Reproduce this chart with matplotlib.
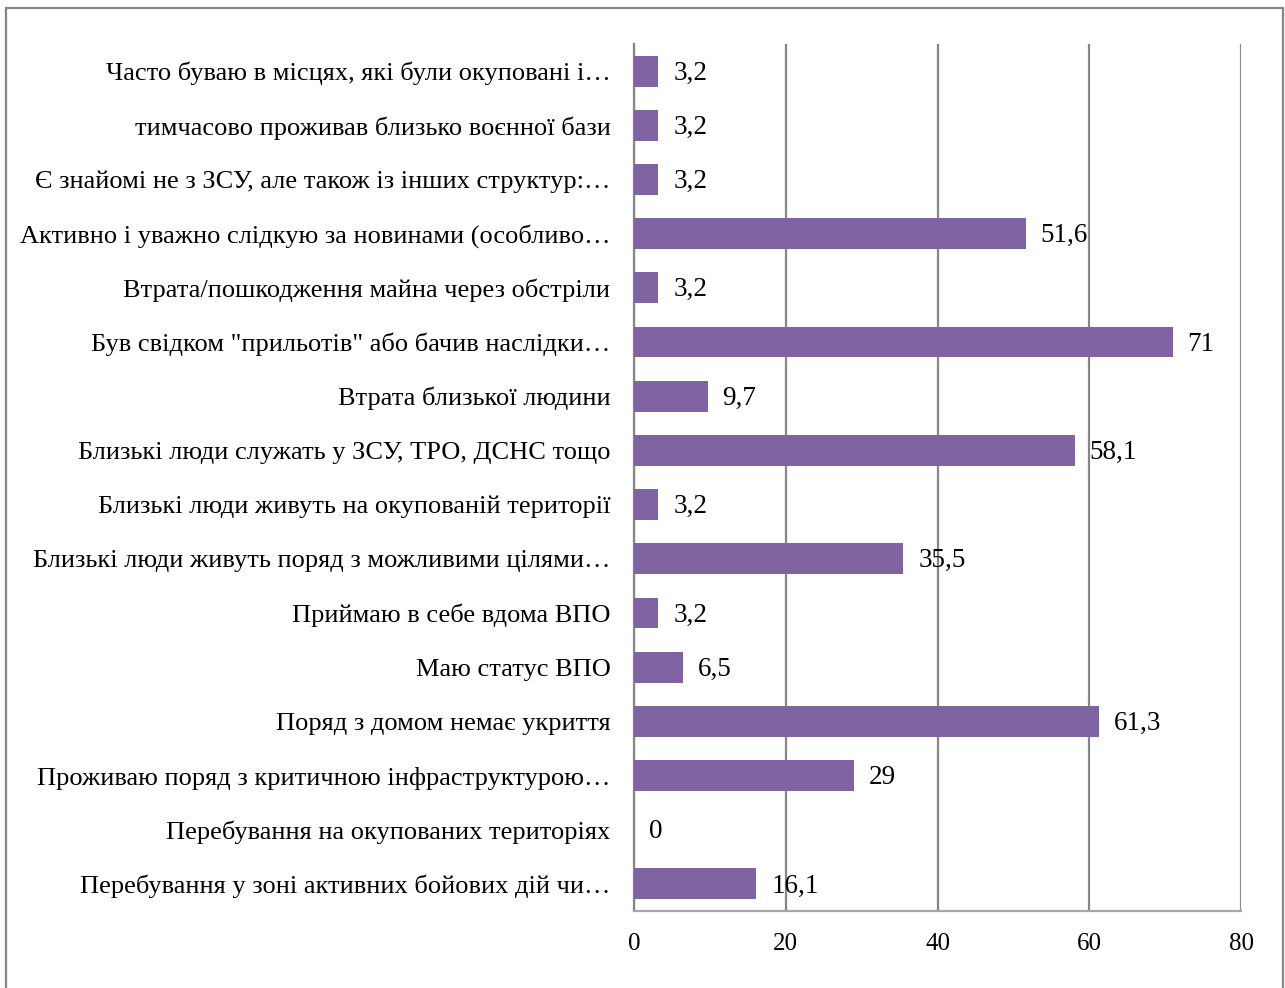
import matplotlib.pyplot as plt
from matplotlib.patches import Rectangle

plt.rcParams['font.family'] = ['Liberation Serif', 'DejaVu Serif']

# Категорії знизу вгору
categories = [
    "Перебування у зоні активних бойових дій чи…",
    "Перебування на окупованих територіях",
    "Проживаю поряд з критичною інфраструктурою…",
    "Поряд з домом немає укриття",
    "Маю статус ВПО",
    "Приймаю в себе вдома ВПО",
    "Близькі люди живуть поряд з можливими цілями…",
    "Близькі люди живуть на окупованій території",
    "Близькі люди служать у ЗСУ, ТРО, ДСНС тощо",
    "Втрата близької людини",
    "Був свідком \"прильотів\" або бачив наслідки…",
    "Втрата/пошкодження майна через обстріли",
    "Активно і уважно слідкую за новинами (особливо…",
    "Є знайомі не з ЗСУ, але також із інших структур:…",
    "тимчасово проживав близько воєнної бази",
    "Часто буваю в місцях, які були окуповані і…",
]
values = [16.1, 0, 29, 61.3, 6.5, 3.2, 35.5, 3.2, 58.1, 9.7, 71, 3.2, 51.6, 3.2, 3.2, 3.2]
x_ticks = [0, 20, 40, 60, 80]

fig = plt.figure(figsize=(12.85, 9.88), dpi=100)
ax = fig.add_axes([634 / 1285, 1 - 911 / 988, 607 / 1285, 867 / 988])

y = range(len(categories))
ax.barh(y, values, height=0.57, color='#8064A2', zorder=3)

for yi, v in zip(y, values):
    txt = f"{v:g}".replace('.', ',')
    ax.annotate(txt, (v, yi), xytext=(15, -2), textcoords='offset pixels',
                va='center', ha='left', fontsize=19.5, zorder=4)

ax.set_xlim(0, 80)
ax.set_ylim(-0.5, len(categories) - 0.5)
ax.set_xticks(x_ticks)
ax.set_yticks(list(y))
ax.set_yticklabels(categories, fontsize=19)
ax.tick_params(axis='both', length=0)
ax.tick_params(axis='y', pad=17)
ax.tick_params(axis='x', pad=16, labelsize=18)

ax.grid(axis='x', color='#868686', linewidth=1.6, zorder=0)
for side in ['top', 'right']:
    ax.spines[side].set_visible(False)
ax.spines['left'].set_color('#868686')
ax.spines['left'].set_linewidth(1.6)
ax.spines['bottom'].set_color('#a6a6a6')
ax.spines['bottom'].set_linewidth(1.6)

# Рамка навколо діаграми
fig.patches.append(Rectangle((6 / 1285, -0.02), 1277 / 1285, 1 - 8 / 988 + 0.02,
                             transform=fig.transFigure, fill=False,
                             edgecolor='#868686', linewidth=1.6))

fig.savefig('out.png', dpi=100)
